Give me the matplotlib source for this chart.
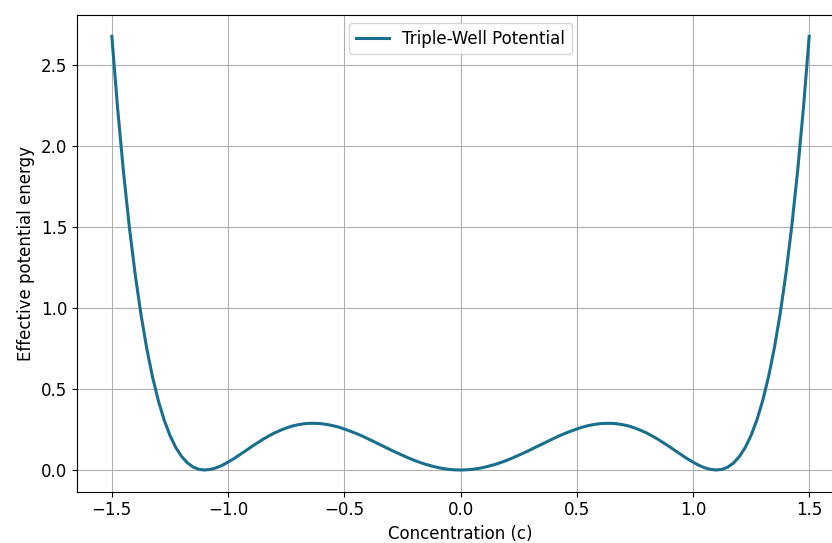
import matplotlib
matplotlib.use("Agg")
import matplotlib.pyplot as plt

# Concentration values (c), read at 0.025 steps from the chart
conc = [-1.500, -1.475, -1.450, -1.425, -1.400, -1.375, -1.350, -1.325, -1.300, -1.275,
        -1.250, -1.225, -1.200, -1.175, -1.150, -1.125, -1.100, -1.075, -1.050, -1.025,
        -1.000, -0.975, -0.950, -0.925, -0.900, -0.875, -0.850, -0.825, -0.800, -0.775,
        -0.750, -0.725, -0.700, -0.675, -0.650, -0.625, -0.600, -0.575, -0.550, -0.525,
        -0.500, -0.475, -0.450, -0.425, -0.400, -0.375, -0.350, -0.325, -0.300, -0.275,
        -0.250, -0.225, -0.200, -0.175, -0.150, -0.125, -0.100, -0.075, -0.050, -0.025,
        0.000,
        0.025, 0.050, 0.075, 0.100, 0.125, 0.150, 0.175, 0.200, 0.225, 0.250,
        0.275, 0.300, 0.325, 0.350, 0.375, 0.400, 0.425, 0.450, 0.475, 0.500,
        0.525, 0.550, 0.575, 0.600, 0.625, 0.650, 0.675, 0.700, 0.725, 0.750,
        0.775, 0.800, 0.825, 0.850, 0.875, 0.900, 0.925, 0.950, 0.975, 1.000,
        1.025, 1.050, 1.075, 1.100, 1.125, 1.150, 1.175, 1.200, 1.225, 1.250,
        1.275, 1.300, 1.325, 1.350, 1.375, 1.400, 1.425, 1.450, 1.475, 1.500]

# Effective potential energy at each concentration
potential = [2.677, 2.231, 1.842, 1.504, 1.213, 0.963, 0.752, 0.575, 0.428, 0.309,
             0.214, 0.139, 0.084, 0.044, 0.018, 0.004, 0.000, 0.004, 0.014, 0.029,
             0.049, 0.070, 0.094, 0.118, 0.143, 0.166, 0.189, 0.210, 0.229, 0.245,
             0.259, 0.271, 0.279, 0.285, 0.288, 0.288, 0.286, 0.281, 0.274, 0.265,
             0.253, 0.240, 0.226, 0.211, 0.194, 0.177, 0.159, 0.142, 0.124, 0.107,
             0.091, 0.075, 0.060, 0.047, 0.035, 0.025, 0.016, 0.009, 0.004, 0.001,
             0.000,
             0.001, 0.004, 0.009, 0.016, 0.025, 0.035, 0.047, 0.060, 0.075, 0.091,
             0.107, 0.124, 0.142, 0.159, 0.177, 0.194, 0.211, 0.226, 0.240, 0.253,
             0.265, 0.274, 0.281, 0.286, 0.288, 0.288, 0.285, 0.279, 0.271, 0.259,
             0.245, 0.229, 0.210, 0.189, 0.166, 0.143, 0.118, 0.094, 0.070, 0.049,
             0.029, 0.014, 0.004, 0.000, 0.004, 0.018, 0.044, 0.084, 0.139, 0.214,
             0.309, 0.428, 0.575, 0.752, 0.963, 1.213, 1.504, 1.842, 2.231, 2.677]

plt.rcParams['font.size'] = 12

fig = plt.figure(figsize=(8.32, 5.43), dpi=100)
ax = fig.add_axes([0.0925, 0.0945, 0.922, 0.8786])
ax.plot(conc, potential, color="#1a6f8e", linewidth=2.2, label="Triple-Well Potential")
ax.set_xlabel("Concentration (c)")
ax.set_ylabel("Effective potential energy")
ax.grid(True)
ax.legend(loc="upper center")
fig.savefig("out.png", dpi=100)
